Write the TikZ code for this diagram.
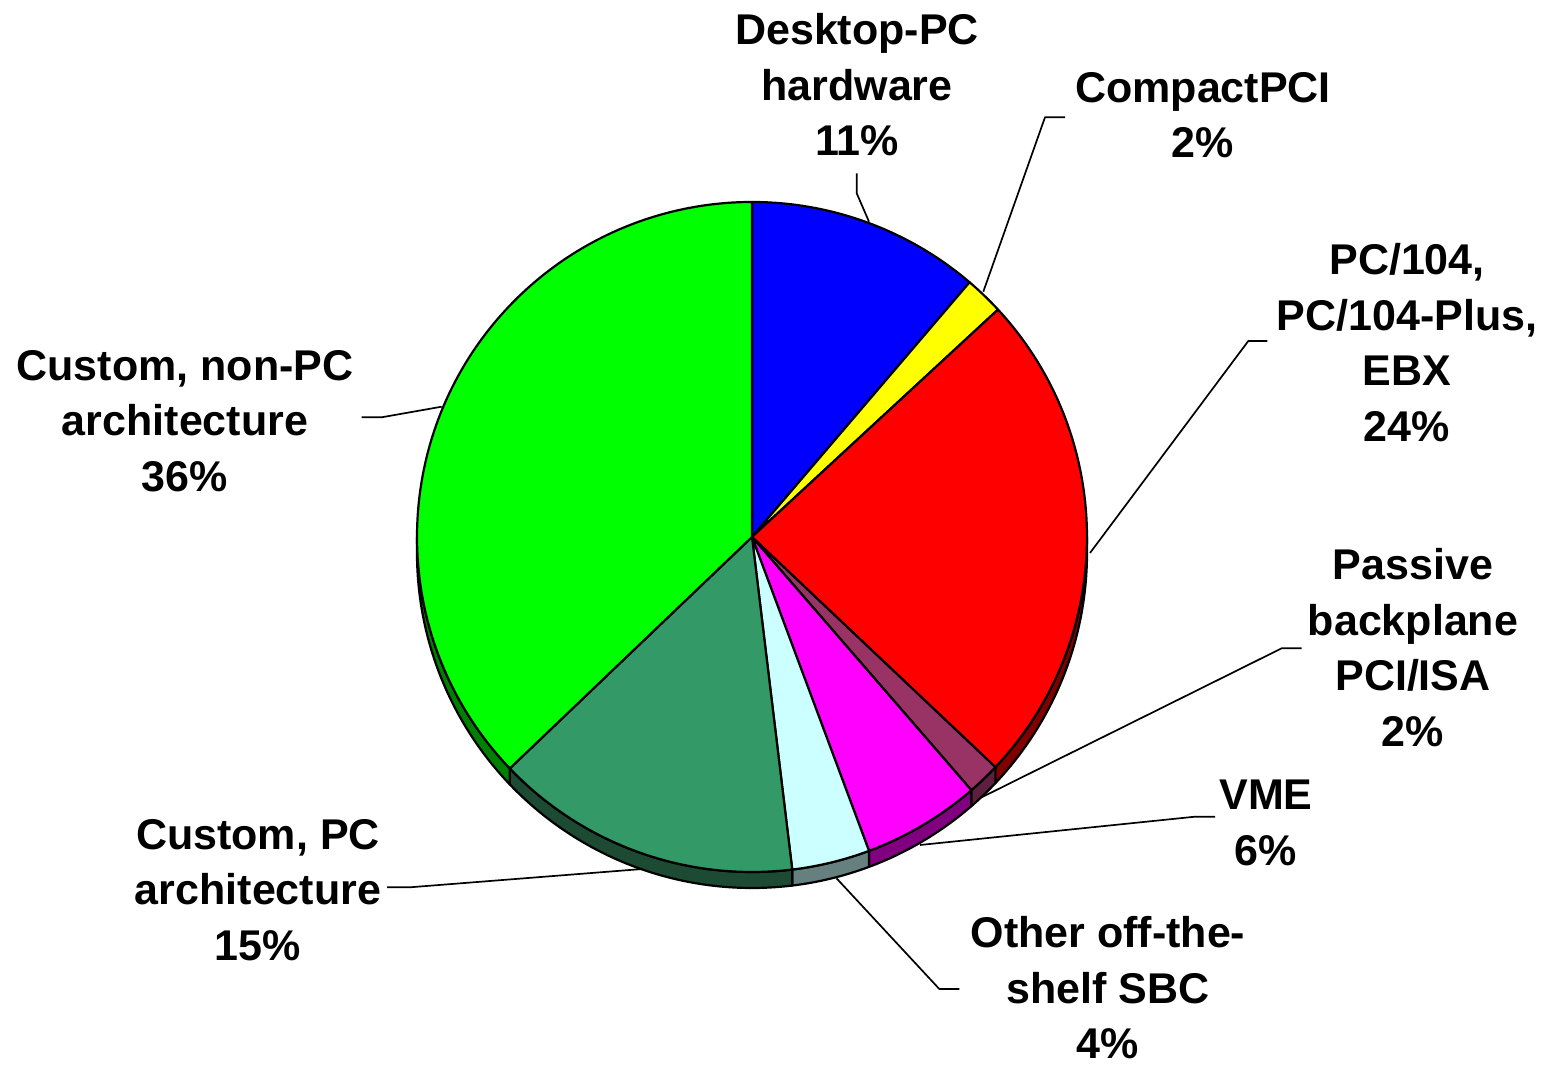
\documentclass[tikz,border=0pt]{standalone}
\usepackage{fontspec}
\setmainfont{Liberation Sans}
\usetikzlibrary{calc}
\definecolor{cBlue}{RGB}{0,0,255}
\definecolor{cYellow}{RGB}{255,255,0}
\definecolor{cRed}{RGB}{255,0,0}
\definecolor{cRedS}{RGB}{128,0,0}
\definecolor{cMaroon}{RGB}{153,51,102}
\definecolor{cMaroonS}{RGB}{92,31,61}
\definecolor{cMag}{RGB}{255,0,255}
\definecolor{cMagS}{RGB}{128,0,128}
\definecolor{cCyan}{RGB}{204,255,255}
\definecolor{cCyanS}{RGB}{102,128,128}
\definecolor{cDkGreen}{RGB}{51,153,102}
\definecolor{cDkGreenS}{RGB}{28,74,51}
\definecolor{cGreen}{RGB}{0,255,0}
\definecolor{cGreenS}{RGB}{0,128,0}
\tikzset{
  slice/.style={draw=black, line width=2.2pt, line join=round},
  sideband/.style={draw=black, line width=2.2pt, line join=round},
  lbl/.style={align=center, inner sep=0pt, font=\bfseries\fontsize{43}{55.5}\selectfont},
  leader/.style={draw=black, line width=1.7pt, line join=round}
}
\newcommand{\pieR}{335}
\begin{document}
\begin{tikzpicture}[x=1pt,y=1pt]
\useasboundingbox (0,0) rectangle (1551,1067);
\coordinate (C) at (752,530);
\coordinate (Cs) at (752,514);
% side bands (depth)
\foreach \a/\b/\col in {0/-43.4/cRedS, -43.4/-49.1/cMaroonS, -49.1/-69.55/cMagS, -69.55/-83.1/cCyanS, -83.1/-136.3/cDkGreenS, -136.3/-180/cGreenS}{
  \path[sideband, fill=\col] ($(C)+(\a:\pieR)$) arc[start angle=\a, end angle=\b, radius=\pieR]
     -- ($(Cs)+(\b:\pieR)$) arc[start angle=\b, end angle=\a, radius=\pieR] -- cycle;
}
% top face
\foreach \a/\b/\col in {90/49.5/cBlue, 49.5/42.75/cYellow, 42.75/-43.4/cRed, -43.4/-49.1/cMaroon, -49.1/-69.55/cMag, -69.55/-83.1/cCyan, -83.1/-136.3/cDkGreen, 223.7/90/cGreen}{
  \path[slice, fill=\col] (C) -- ($(C)+(\a:\pieR)$) arc[start angle=\a, end angle=\b, radius=\pieR] -- cycle;
}
% labels
\node[lbl] (lDesk) at (857,982) {Desktop-PC\\hardware\\11\%};
\node[lbl] (lCPCI) at (1203,952) {CompactPCI\\2\%};
\node[lbl] (lPC104) at (1407,724.5) {PC/104,\\PC/104-Plus,\\EBX\\24\%};
\node[lbl] (lPass) at (1413,419.5) {Passive\\backplane\\PCI/ISA\\2\%};
\node[lbl] (lVME) at (1266,244) {VME\\6\%};
\node[lbl] (lOther) at (1108,79) {Other off-the-\\shelf SBC\\4\%};
\node[lbl] (lCPC) at (258,177) {Custom, PC\\architecture\\15\%};
\node[lbl] (lNonPC) at (185,646) {Custom, non-PC\\architecture\\36\%};
% leader coordinates
\coordinate (dA) at (856.7,893.7); \coordinate (dB) at (856.7,873.7); \coordinate (dC) at (869,845.3);
\coordinate (cA) at (1065,949.7); \coordinate (cB) at (1045,949.7); \coordinate (cC) at (983.3,775.3);
\coordinate (pA) at (1267.3,726); \coordinate (pB) at (1248.3,726); \coordinate (pC) at (1090,514);
\coordinate (bA) at (1301.7,418.7); \coordinate (bB) at (1281.7,418.7); \coordinate (bC) at (981.7,269.7);
\coordinate (vA) at (1215,250.3); \coordinate (vB) at (1195,250.3); \coordinate (vC) at (920,222);
\coordinate (oA) at (959.3,78); \coordinate (oB) at (939.3,78); \coordinate (oC) at (836.5,188.7);
\coordinate (uA) at (387,179.7); \coordinate (uB) at (410,179.7); \coordinate (uC) at (642.5,198);
\coordinate (nA) at (361.7,649.7); \coordinate (nB) at (381.7,649.7); \coordinate (nC) at (441.7,660.3);
\draw[leader] (dA) -- (dB) -- (dC);
\draw[leader] (cA) -- (cB) -- (cC);
\draw[leader] (pA) -- (pB) -- (pC);
\draw[leader] (bA) -- (bB) -- (bC);
\draw[leader] (vA) -- (vB) -- (vC);
\draw[leader] (oA) -- (oB) -- (oC);
\draw[leader] (uA) -- (uB) -- (uC);
\draw[leader] (nA) -- (nB) -- (nC);
\end{tikzpicture}
\end{document}
